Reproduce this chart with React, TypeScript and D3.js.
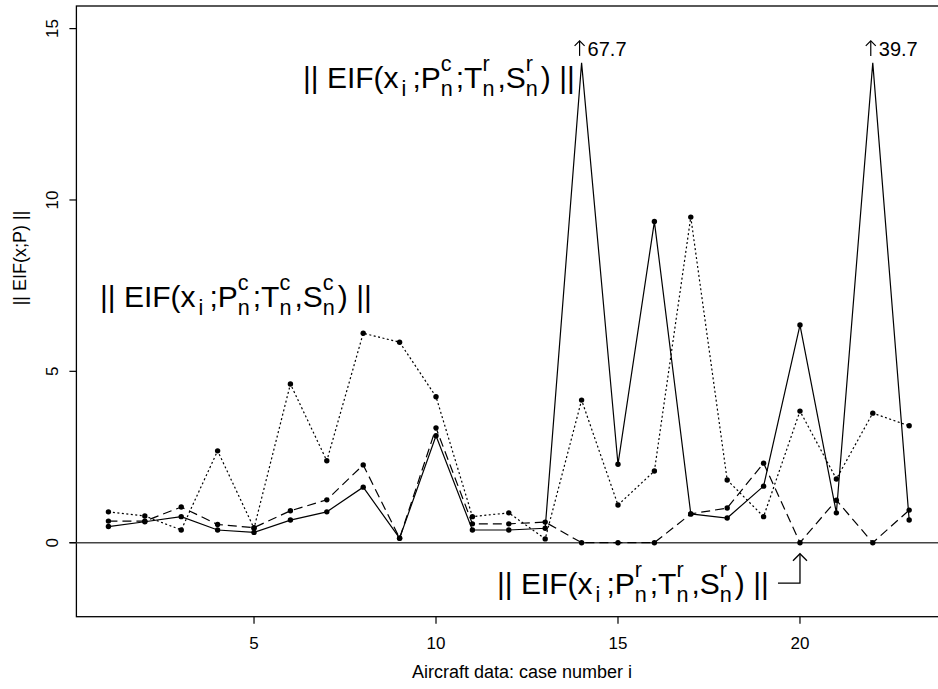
import React, { useEffect, useRef } from "react";
import * as d3 from "d3";

// ---- data ----
const cases = [1, 2, 3, 4, 5, 6, 7, 8, 9, 10, 11, 12, 13, 14, 15, 16, 17, 18, 19, 20, 21, 22, 23];
// || EIF(x_i; P_n^c; T_n^r, S_n^r) ||  (solid)
const eifCRR = [0.47, 0.61, 0.76, 0.37, 0.3, 0.66, 0.9, 1.62, 0.13, 3.12, 0.37, 0.37, 0.42, 67.7, 2.29, 9.37, 0.84, 0.72, 1.65, 6.35, 0.87, 39.7, 0.66];
// || EIF(x_i; P_n^r; T_n^r, S_n^r) ||  (dashed)
const eifRRR = [0.63, 0.63, 1.04, 0.53, 0.44, 0.93, 1.25, 2.27, 0.13, 3.35, 0.55, 0.55, 0.6, 0, 0, 0, 0.84, 1.01, 2.32, 0, 1.24, 0, 0.95];
// || EIF(x_i; P_n^c; T_n^c, S_n^c) ||  (dotted)
const eifCCC = [0.9, 0.78, 0.37, 2.68, 0.42, 4.63, 2.39, 6.11, 5.85, 4.26, 0.76, 0.87, 0.11, 4.16, 1.1, 2.09, 9.5, 1.83, 0.76, 3.84, 1.86, 3.78, 3.41];
const xTicks = [5, 10, 15, 20];
const yTicks = [0, 5, 10, 15];
const yCap = 14;
const xTitle = "Aircraft data: case number i";
const yTitle = "|| EIF(x;P) ||";

const W = 938;
const H = 689;
const FONT = "'Liberation Sans', Arial, Helvetica, sans-serif";

type Tok = { t?: string; sub?: string; sup?: string; gap?: number };

const mk = (p: string, t: string, s: string): Tok[] => [
  { t: "|| EIF(x" }, { gap: 3 }, { sub: "i" }, { gap: 6 }, { t: ";P" }, { sub: "n", sup: p }, { gap: 3 },
  { t: ";T" }, { sub: "n", sup: t }, { gap: 3 }, { t: ",S" }, { sub: "n", sup: s }, { gap: 3 }, { t: ") ||" },
];
const labCRR = mk("c", "r", "r");
const labCCC = mk("c", "c", "c");
const labRRR = mk("r", "r", "r");

export default function App() {
  const gRef = useRef<SVGGElement | null>(null);

  const x = d3.scaleLinear().domain([0.12, 23.88]).range([76.4, 941.2]);
  const y = d3.scaleLinear().domain([-2.16, 15.66]).range([616.7, 6.0]);

  const line = d3
    .line<number>()
    .x((_, i) => x(cases[i]))
    .y((v) => y(Math.min(v, yCap)));

  const series = [
    { vals: eifCRR, dash: "none" },
    { vals: eifRRR, dash: "9,5" },
    { vals: eifCCC, dash: "2,2.5" },
  ];

  useEffect(() => {
    const g = d3.select(gRef.current);
    g.selectAll("*").remove();
    const fs = 30;
    const sc = 0.72;
    const draw = (toks: Tok[], x0: number, base: number) => {
      let cx = x0;
      toks.forEach((tk) => {
        if (tk.gap) {
          cx += tk.gap;
          return;
        }
        if (tk.t) {
          const n = g
            .append("text")
            .attr("x", cx)
            .attr("y", base)
            .attr("font-size", fs)
            .attr("font-family", FONT)
            .style("white-space", "pre")
            .text(tk.t);
          cx += (n.node() as SVGTextElement).getComputedTextLength();
          return;
        }
        let w = 0;
        if (tk.sub) {
          const n = g
            .append("text")
            .attr("x", cx)
            .attr("y", base + fs * 0.28)
            .attr("font-size", fs * sc)
            .attr("font-family", FONT)
            .text(tk.sub);
          w = Math.max(w, (n.node() as SVGTextElement).getComputedTextLength());
        }
        if (tk.sup) {
          const n = g
            .append("text")
            .attr("x", cx)
            .attr("y", base - fs * 0.58)
            .attr("font-size", fs * sc)
            .attr("font-family", FONT)
            .text(tk.sup);
          w = Math.max(w, (n.node() as SVGTextElement).getComputedTextLength());
        }
        cx += w;
      });
      return cx;
    };
    draw(labCRR, 303, 88);
    draw(labCCC, 100, 307);
    draw(labRRR, 497, 594);
  }, []);

  const x20 = x(20);
  const y0 = y(0);
  const yTop = y(yCap);

  return (
    <svg
      width={W}
      height={H}
      style={{ position: "absolute", left: 0, top: 0, background: "#fff" }}
      fontFamily={FONT}
    >
      <rect x={0} y={0} width={W} height={H} fill="#fff" />
      {/* plot box */}
      <rect x={x.range()[0]} y={y.range()[1]} width={x.range()[1] - x.range()[0]} height={y.range()[0] - y.range()[1]} fill="none" stroke="#000" strokeWidth={1.3} />
      {/* zero line */}
      <line x1={x.range()[0] - 7} x2={W} y1={y0} y2={y0} stroke="#444" strokeWidth={1.6} />
      {/* x axis */}
      {xTicks.map((t) => (
        <g key={"xt" + t}>
          <line x1={x(t)} x2={x(t)} y1={y.range()[0]} y2={y.range()[0] + 7} stroke="#000" strokeWidth={1.2} />
          <text x={x(t)} y={649} textAnchor="middle" fontSize={17}>
            {t}
          </text>
        </g>
      ))}
      {/* y axis */}
      {yTicks.map((t) => (
        <g key={"yt" + t}>
          <line x1={x.range()[0] - 7} x2={x.range()[0]} y1={y(t)} y2={y(t)} stroke="#000" strokeWidth={1.2} />
          <text transform={`translate(58,${y(t)}) rotate(-90)`} textAnchor="middle" fontSize={17}>
            {t}
          </text>
        </g>
      ))}
      <text x={522} y={678} textAnchor="middle" fontSize={18}>
        {xTitle}
      </text>
      <text transform="translate(26,258) rotate(-90)" textAnchor="middle" fontSize={18} style={{ whiteSpace: "pre" }}>
        {yTitle}
      </text>
      {/* series */}
      {series.map((s, si) => (
        <g key={"s" + si}>
          <path d={line(s.vals) || ""} fill="none" stroke="#000" strokeWidth={1.2} strokeDasharray={s.dash} />
          {s.vals.map((v, i) =>
            v <= yCap ? <circle key={i} cx={x(cases[i])} cy={y(v)} r={2.7} fill="#000" /> : null
          )}
        </g>
      ))}
      {/* off-scale annotations */}
      {eifCRR.map((v, i) => {
        if (v <= yCap) return null;
        const ax = x(cases[i]) - 2;
        const base = yTop - 7;
        return (
          <g key={"o" + i}>
            <path d={`M${ax},${base} V${base - 15}`} stroke="#000" strokeWidth={1.2} fill="none" />
            <path d={`M${ax - 5},${base - 10} L${ax},${base - 15} L${ax + 5},${base - 10}`} stroke="#000" strokeWidth={1.2} fill="none" />
            <text x={ax + 8} y={base} fontSize={20}>
              {v.toFixed(1)}
            </text>
          </g>
        );
      })}
      {/* arrow to the r-r-r label */}
      <path d={`M${x20 - 22},${y0 + 40.5} H${x20} V${y0 + 11}`} fill="none" stroke="#000" strokeWidth={1.3} />
      <path d={`M${x20 - 7},${y0 + 18} L${x20},${y0 + 11} L${x20 + 7},${y0 + 18}`} fill="none" stroke="#000" strokeWidth={1.3} />
      <g ref={gRef} />
    </svg>
  );
}
